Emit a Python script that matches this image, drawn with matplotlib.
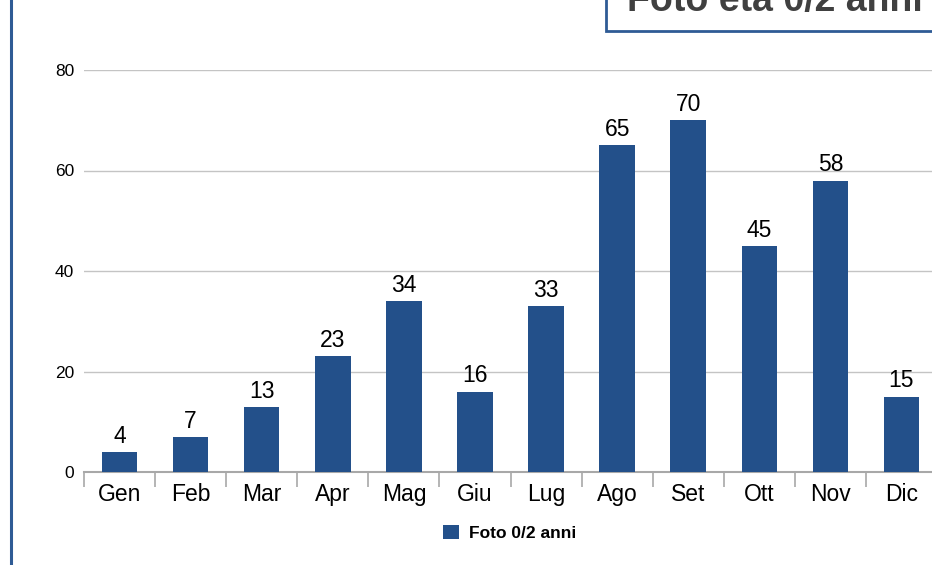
import matplotlib
matplotlib.use("Agg")
import matplotlib.pyplot as plt
from matplotlib.patches import Rectangle

# data
mesi = ["Gen", "Feb", "Mar", "Apr", "Mag", "Giu", "Lug", "Ago", "Set", "Ott", "Nov", "Dic"]
foto = [4, 7, 13, 23, 34, 16, 33, 65, 70, 45, 58, 15]
serie = "Foto 0/2 anni"
titolo = "Foto età 0/2 anni"

blu = "#23508a"
grigio = "#c4c4c4"

plt.rcParams['font.family'] = ['Liberation Sans', 'DejaVu Sans']

fig = plt.figure(figsize=(9.32, 5.65), dpi=100)
W, H = 932, 565

# left accent line
fig.add_artist(plt.Line2D([10.5 / W, 10.5 / W], [0, 1], color="#2f5b95", lw=2.2,
                          transform=fig.transFigure))

ax = fig.add_axes([84 / W, 1 - 472 / H, 853 / W, 402 / H])
x = list(range(len(mesi)))
bars = ax.bar(x, foto, width=0.5, color=blu, label=serie, zorder=3)
ax.bar_label(bars, padding=3, fontsize=16.5, color="black")

ax.set_xlim(-0.5, len(mesi) - 0.5)
ax.set_ylim(0, 80)
ax.set_yticks([0, 20, 40, 60, 80])
ax.grid(axis="y", color=grigio, lw=1, zorder=0)
ax.tick_params(axis="y", length=0, pad=7, labelsize=12.5)
ax.set_xticks(x)
ax.set_xticklabels(mesi, fontsize=16.5)
ax.tick_params(axis="x", which="major", length=0, pad=8)
ax.set_xticks([i - 0.5 for i in range(len(mesi) + 1)], minor=True)
ax.tick_params(axis="x", which="minor", length=11, width=1.2, color="#a8a8a8")
for s in ["top", "right", "left"]:
    ax.spines[s].set_visible(False)
ax.spines["bottom"].set_color("#a8a8a8")
ax.spines["bottom"].set_linewidth(1.5)

# title box, cut at the top right
fig.add_artist(Rectangle((606 / W, 1 - 31 / H), 0.5, 0.2, transform=fig.transFigure,
                         facecolor="white", edgecolor="#2f5b95", lw=2, clip_on=False))
fig.text(627 / W, 1 - 11 / H, titolo, fontsize=27, fontweight="bold", color="#404040",
         ha="left", va="baseline")

leg = ax.legend(loc="center", bbox_to_anchor=(510 / W, 1 - 533 / H),
                bbox_transform=fig.transFigure, frameon=False,
                prop={"size": 12.5, "weight": "bold"},
                handlelength=0.9, handleheight=0.9, handletextpad=0.6)

fig.savefig("out.png", dpi=100)
